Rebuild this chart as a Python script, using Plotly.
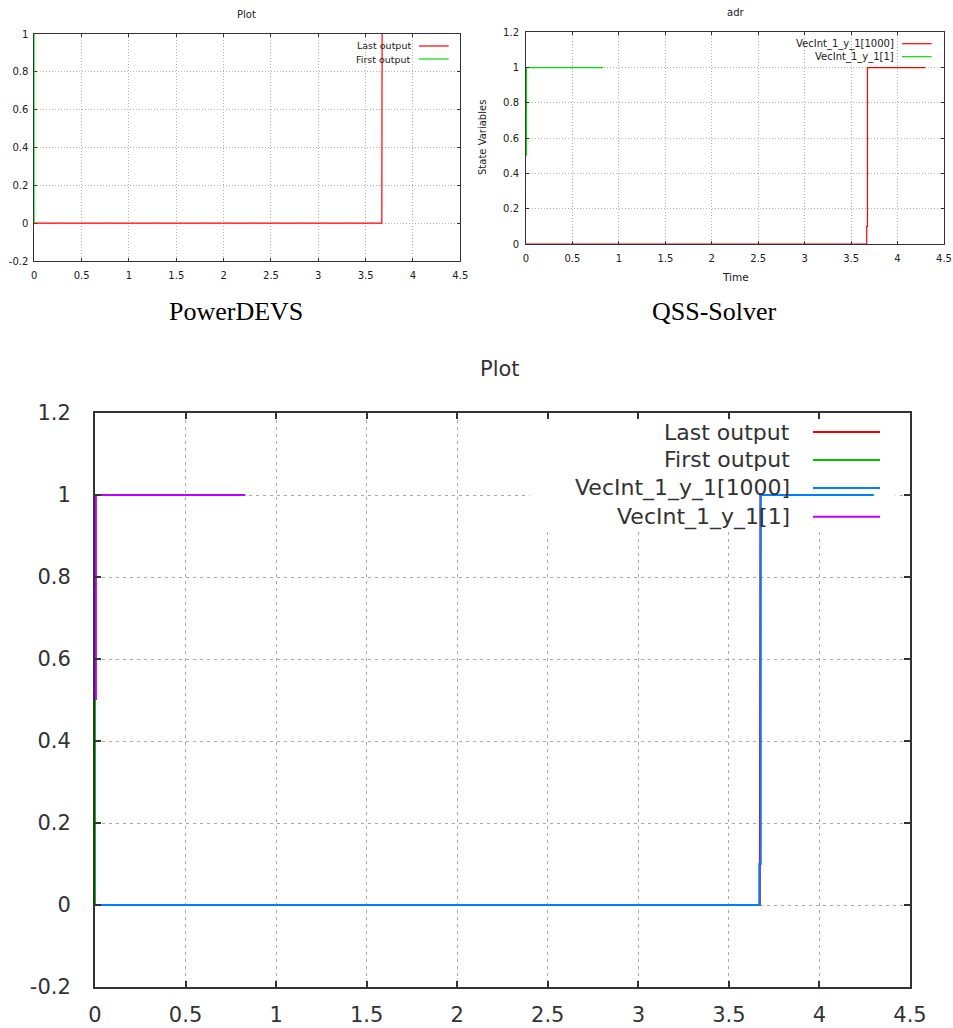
import plotly.graph_objects as go

W, H = 953, 1028

# ---------------- data ----------------
x_ticks = [0, 0.5, 1, 1.5, 2, 2.5, 3, 3.5, 4, 4.5]
x_tick_labels = ["0", "0.5", "1", "1.5", "2", "2.5", "3", "3.5", "4", "4.5"]
y_ticks_pd = [-0.2, 0, 0.2, 0.4, 0.6, 0.8, 1]
y_tick_labels_pd = ["-0.2", "0", "0.2", "0.4", "0.6", "0.8", "1"]
y_ticks_qss = [0, 0.2, 0.4, 0.6, 0.8, 1, 1.2]
y_tick_labels_qss = ["0", "0.2", "0.4", "0.6", "0.8", "1", "1.2"]
y_ticks_all = [-0.2, 0, 0.2, 0.4, 0.6, 0.8, 1, 1.2]
y_tick_labels_all = ["-0.2", "0", "0.2", "0.4", "0.6", "0.8", "1", "1.2"]

# PowerDEVS outputs
pd_last_x = [0.0, 3.671, 3.674]
pd_last_y = [0.0, 0.0, 1.0]
pd_first_x = [0.0, 0.0]
pd_first_y = [0.0, 1.0]

# QSS-Solver outputs
qss_1000_x = [0.0, 3.668, 3.668, 3.676, 3.676, 4.3]
qss_1000_y = [0.0, 0.0, 0.1, 0.1, 1.0, 1.0]
qss_1_x = [0.005, 0.005, 0.83]
qss_1_y = [0.5, 1.0, 1.0]

names_pd = ["Last output", "First output"]
names_qss = ["VecInt_1_y_1[1000]", "VecInt_1_y_1[1]"]

top_colors = ["#ff0000", "#00e000"]
bottom_colors = ["#ff0000", "#00c000", "#0080ff", "#c000ff"]

FONT = "DejaVu Sans"

fig = go.Figure()


def px_x(p):
    return p / W


def px_y(p):
    return 1 - p / H


# ---------------- top-left: PowerDEVS ----------------
fig.add_trace(go.Scatter(x=pd_last_x, y=pd_last_y, mode="lines", name=names_pd[0],
                         line=dict(color=top_colors[0], width=1.2), xaxis="x", yaxis="y",
                         showlegend=False))
fig.add_trace(go.Scatter(x=pd_first_x, y=pd_first_y, mode="lines", name=names_pd[1],
                         line=dict(color=top_colors[1], width=1.2), xaxis="x", yaxis="y",
                         showlegend=False))

# ---------------- top-right: QSS-Solver ----------------
fig.add_trace(go.Scatter(x=qss_1000_x, y=qss_1000_y, mode="lines", name=names_qss[0],
                         line=dict(color=top_colors[0], width=1.2), xaxis="x2", yaxis="y2",
                         showlegend=False))
fig.add_trace(go.Scatter(x=qss_1_x, y=qss_1_y, mode="lines", name=names_qss[1],
                         line=dict(color=top_colors[1], width=1.2), xaxis="x2", yaxis="y2",
                         showlegend=False))

# ---------------- bottom: combined ----------------
all_x = [pd_last_x, pd_first_x, qss_1000_x, qss_1_x]
all_y = [pd_last_y, pd_first_y, qss_1000_y, qss_1_y]
all_names = names_pd + names_qss
for xs, ys, nm, col in zip(all_x, all_y, all_names, bottom_colors):
    fig.add_trace(go.Scatter(x=xs, y=ys, mode="lines", name=nm,
                             line=dict(color=col, width=2), xaxis="x3", yaxis="y3",
                             showlegend=False))


def axis(domain, rng, tickvals, ticktext, fs, standoff, ticklen, lw, gdash, gcolor, layer,
         anchor, tcolor):
    return dict(domain=domain, range=rng, tickvals=tickvals, ticktext=ticktext,
                showline=True, linecolor="#333333", linewidth=lw, mirror="ticks",
                ticks="inside", ticklen=ticklen, tickwidth=lw, tickcolor="#333333",
                showgrid=True, gridcolor=gcolor, griddash=gdash, gridwidth=1,
                zeroline=False, layer=layer, anchor=anchor, fixedrange=True,
                automargin=False,
                tickfont=dict(family=FONT, size=fs, color=tcolor),
                ticklabelstandoff=standoff)


fig.update_layout(
    width=W, height=H,
    margin=dict(l=0, r=0, t=0, b=0, autoexpand=False),
    paper_bgcolor="white", plot_bgcolor="white",
    showlegend=False,
    xaxis=axis([px_x(34.3), px_x(460.3)], [0, 4.5], x_ticks, x_tick_labels, 10, 5, 3, 1,
               "1px,2px", "#b0b0b0", "below traces", "y", "#202020"),
    yaxis=axis([px_y(261), px_y(34)], [-0.2, 1], y_ticks_pd, y_tick_labels_pd, 10, 3, 3, 1,
               "1px,2px", "#b0b0b0", "below traces", "x", "#202020"),
    xaxis2=axis([px_x(526), px_x(944)], [0, 4.5], x_ticks, x_tick_labels, 10, 5, 3, 1,
                "1px,2px", "#b0b0b0", "above traces", "y2", "#202020"),
    yaxis2=axis([px_y(244), px_y(32.3)], [0, 1.2], y_ticks_qss, y_tick_labels_qss, 10, 4, 3, 1,
                "1px,2px", "#b0b0b0", "above traces", "x2", "#202020"),
    xaxis3=axis([px_x(95), px_x(910)], [0, 4.5], x_ticks, x_tick_labels, 21, 8, 6, 2,
                "3px,4px", "#a8a8a8", "above traces", "y3", "#333333"),
    yaxis3=axis([px_y(987), px_y(413)], [-0.2, 1.2], y_ticks_all, y_tick_labels_all, 21, 18, 6, 2,
                "3px,4px", "#a8a8a8", "above traces", "x3", "#333333"),
)

annotations = []
shapes = []


def text_at(txt, xp, yp, size, family=FONT, color="#202020", xanchor="center", angle=0):
    annotations.append(dict(text=txt, x=px_x(xp), y=px_y(yp), xref="paper", yref="paper",
                            xanchor=xanchor, yanchor="middle", showarrow=False,
                            textangle=angle, font=dict(family=family, size=size, color=color)))


# titles
text_at("Plot", 247, 15, 10)
text_at("adr", 735, 13, 10)
text_at("Time", 735, 277, 10.5)
text_at("State Variables", 483, 138, 10, angle=-90)
text_at("Plot", 500, 369, 21, color="#333333")

# captions
text_at("PowerDEVS", 236, 311, 26, family="Liberation Serif", color="#000000")
text_at("QSS-Solver", 714, 311, 26, family="Liberation Serif", color="#000000")


def legend(names, colors, text_right, sx0, sx1, rows, size, lw, color):
    for nm, col, ry in zip(names, colors, rows):
        text_at(nm, text_right, ry, size, color=color, xanchor="right")
        shapes.append(dict(type="line", xref="paper", yref="paper",
                           x0=px_x(sx0), x1=px_x(sx1), y0=px_y(ry), y1=px_y(ry),
                           line=dict(color=col, width=lw)))


legend(names_pd, top_colors, 412.7, 419, 448.7, [46, 59], 9.5, 1.2, "#202020")
legend(names_qss, top_colors, 896, 902, 931.7, [43.7, 56.7], 10, 1.2, "#202020")

# opaque key box in the bottom plot (hides grid behind the key)
shapes.append(dict(type="rect", xref="x3", yref="y3", x0=2.4, x1=4.42, y0=0.91, y1=1.2,
                   fillcolor="white", line=dict(width=0), layer="between"))
legend(all_names, bottom_colors, 792, 813, 880, [432, 460, 488, 516.7], 22, 2, "#333333")

fig.update_layout(annotations=annotations, shapes=shapes)

fig.write_html("out.html")
